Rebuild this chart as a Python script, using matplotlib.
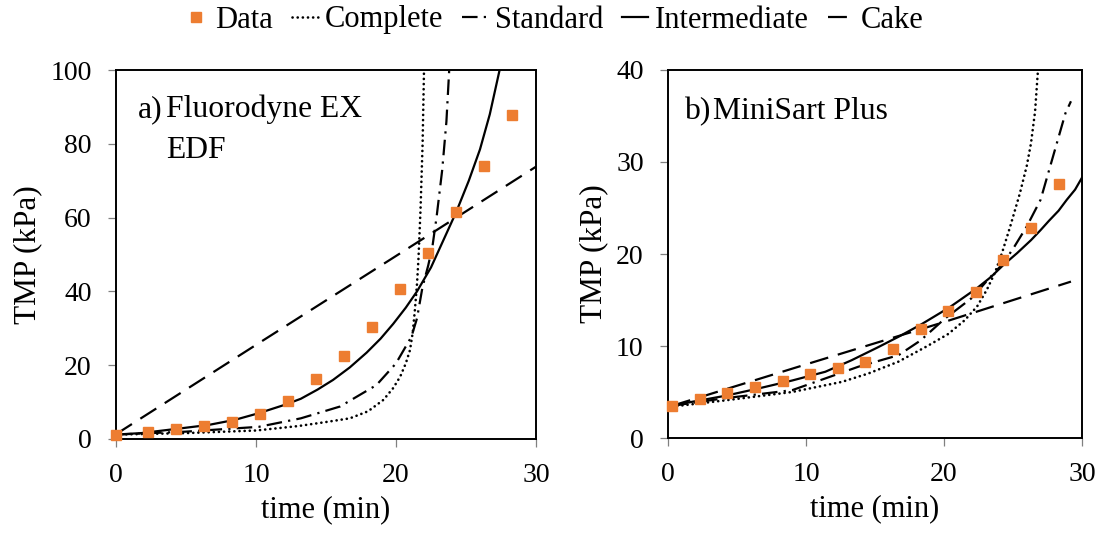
import matplotlib
matplotlib.use("Agg")
import matplotlib.pyplot as plt
from matplotlib.lines import Line2D

plt.rcParams['font.family'] = ['Liberation Serif', 'DejaVu Serif']

# ---- (a) Fluorodyne EX EDF ----
a_time = [0, 2.3, 4.3, 6.3, 8.3, 10.3, 12.3, 14.3, 16.3, 18.3, 20.3, 22.3, 24.3, 26.3, 28.3]
a_tmp = [1.2, 2.0, 2.7, 3.4, 4.7, 6.9, 10.2, 16.3, 22.6, 30.3, 40.7, 50.3, 61.4, 73.9, 87.7]

a_complete_t = [0, 5, 10, 13, 15, 16.7, 18, 19.1, 19.8, 20.3, 20.7, 21.0, 21.2, 21.35, 21.5, 21.6, 21.75, 21.9, 22.0]
a_complete_v = [1.2, 1.6, 2.3, 3.5, 4.6, 5.6, 7.5, 10.6, 13.8, 16.9, 20.5, 24.1, 29.0, 35.0, 42.0, 48.5, 62.0, 80.0, 100]

a_standard_t = [0, 5, 10.2, 13.2, 16.0, 18.6, 20.0, 21.1, 21.5, 21.9, 22.3, 22.6, 22.9, 23.3, 23.6, 23.8]
a_standard_v = [1.2, 2.0, 3.3, 5.6, 8.8, 14.6, 20.5, 27.7, 32.7, 41.3, 47.0, 52.1, 60.2, 72.9, 86.0, 100]

a_inter_t = [0, 1.8, 4.0, 6.6, 8.5, 10.2, 12.0, 13.2, 14.4, 15.5, 16.7, 17.9, 18.9, 19.8,
             20.7, 21.5, 22.5, 23.4, 24.3, 25.2, 26.0, 26.7, 27.4]
a_inter_v = [1.2, 1.6, 2.6, 3.8, 5.2, 7.0, 9.2, 10.9, 13.4, 16.0, 19.4, 23.4, 27.2, 31.2,
             35.6, 40.0, 46.5, 54.0, 61.5, 70.0, 78.5, 88.0, 100]

a_cake_t = [0, 10, 20, 30]
a_cake_v = [1.3, 25.5, 49.6, 73.8]

# ---- (b) MiniSart Plus ----
b_time = [0.3, 2.3, 4.3, 6.3, 8.3, 10.3, 12.3, 14.3, 16.3, 18.3, 20.3, 22.3, 24.3, 26.3, 28.3]
b_tmp = [3.5, 4.2, 4.9, 5.5, 6.2, 7.0, 7.6, 8.3, 9.7, 11.8, 13.8, 15.9, 19.3, 22.8, 27.6]

b_complete_t = [0.3, 0.8, 4.2, 9.0, 12.6, 14.5, 16.7, 18.8, 20.3, 21.5, 22.4, 23.1, 23.7, 24.2,
                24.8, 25.5, 26.0, 26.3, 26.6, 26.8]
b_complete_v = [3.4, 3.5, 4.1, 5.0, 6.1, 7.0, 8.3, 10.0, 11.3, 12.8, 14.3, 16.1, 18.0, 20.1,
                23.0, 26.6, 29.6, 32.0, 35.5, 39.8]

b_standard_t = [0.3, 4.0, 9.0, 13.8, 16.7, 18.3, 20.0, 22.0, 23.3, 24.3, 25.1, 26.0, 27.0, 27.9, 28.8, 29.2]
b_standard_v = [3.5, 4.3, 5.2, 7.75, 9.0, 10.6, 12.9, 15.2, 17.4, 19.0, 20.8, 23.0, 25.9, 30.6, 35.3, 36.6]

b_inter_t = [0.3, 1.8, 4.2, 6.6, 9.0, 11.4, 13.3, 15.2, 16.7, 18.35, 20.4, 22.4, 23.4, 24.3,
             25.3, 26.3, 27.0, 27.6, 28.3, 28.9, 29.5, 30]
b_inter_v = [3.5, 3.95, 4.6, 5.4, 6.25, 7.2, 8.45, 9.85, 11.0, 12.35, 14.2, 16.3, 17.5, 18.8,
             20.1, 21.5, 22.6, 23.6, 24.7, 25.9, 27.0, 28.3]

b_cake_t = [0.3, 10, 20, 29.2]
b_cake_v = [3.5, 8.0, 12.6, 17.0]

x_ticks = [0, 10, 20, 30]
a_yticks = [0, 20, 40, 60, 80, 100]
b_yticks = [0, 10, 20, 30, 40]

ORANGE = '#ED7D31'
LW = 1.6
styles = {
    'Complete': dict(linestyle=(0, (0.05, 1.9)), dash_capstyle='round', lw=1.9),
    'Standard': dict(linestyle=(0, (7, 2.8, 1, 2.8)), lw=LW),
    'Intermediate': dict(linestyle='-', lw=LW),
    'Cake': dict(linestyle=(0, (8.5, 4.5)), lw=LW),
}

fig = plt.figure(figsize=(11.11, 5.34), dpi=100)
ax_a = fig.add_axes([116 / 1111, 1 - 439 / 534, 420 / 1111, 369 / 534])
ax_b = fig.add_axes([668 / 1111, 1 - 438 / 534, 414 / 1111, 368 / 534])


def draw_panel(ax, t, v, curves, yticks):
    for name, (ct, cv) in curves.items():
        ax.plot(ct, cv, color='black', **styles[name], zorder=2, clip_on=True)
    ax.plot(t, v, linestyle='none', marker='s', markersize=7.5,
            color=ORANGE, markeredgecolor=ORANGE, zorder=3, clip_on=False)
    ax.set_xlim(0, 30)
    ax.set_ylim(yticks[0], yticks[-1])
    ax.set_xticks(x_ticks)
    ax.set_yticks(yticks)
    ax.tick_params(direction='out', length=5.5, width=0.9, color='#808080',
                   labelsize=20, pad=12)
    for sp in ax.spines.values():
        sp.set_linewidth(1.4)
    ax.set_xlabel('time (min)', fontsize=22, labelpad=5)
    ax.set_ylabel('TMP (kPa)', fontsize=22.5, labelpad=6)


draw_panel(ax_a, a_time, a_tmp,
           {'Complete': (a_complete_t, a_complete_v),
            'Standard': (a_standard_t, a_standard_v),
            'Intermediate': (a_inter_t, a_inter_v),
            'Cake': (a_cake_t, a_cake_v)}, a_yticks)
draw_panel(ax_b, b_time, b_tmp,
           {'Complete': (b_complete_t, b_complete_v),
            'Standard': (b_standard_t, b_standard_v),
            'Intermediate': (b_inter_t, b_inter_v),
            'Cake': (b_cake_t, b_cake_v)}, b_yticks)

ANN = 22.8
ax_a.text(0.051, 0.893, 'a)', transform=ax_a.transAxes, fontsize=ANN, ha='left', va='center')
ax_a.text(0.12, 0.893, 'Fluorodyne EX', transform=ax_a.transAxes, fontsize=ANN, ha='left', va='center')
ax_a.text(0.12, 0.782, 'EDF', transform=ax_a.transAxes, fontsize=ANN, ha='left', va='center')
ax_b.text(0.040, 0.887, 'b)', transform=ax_b.transAxes, fontsize=ANN, ha='left', va='center')
ax_b.text(0.108, 0.887, 'MiniSart Plus', transform=ax_b.transAxes, fontsize=ANN, ha='left', va='center')

handles = [Line2D([], [], linestyle='none', marker='s', markersize=7.5, color=ORANGE)]
labels = ['Data']
for name in ['Complete', 'Standard', 'Intermediate', 'Cake']:
    handles.append(Line2D([], [], color='black', **styles[name]))
    labels.append(name)
fig.legend(handles, labels, loc='center', bbox_to_anchor=(553 / 1111, 1 - 20 / 534),
           ncol=5, frameon=False, fontsize=22, handlelength=0.85,
           handletextpad=0.22, columnspacing=0.62, borderaxespad=0)

fig.savefig('out.png', dpi=100)
